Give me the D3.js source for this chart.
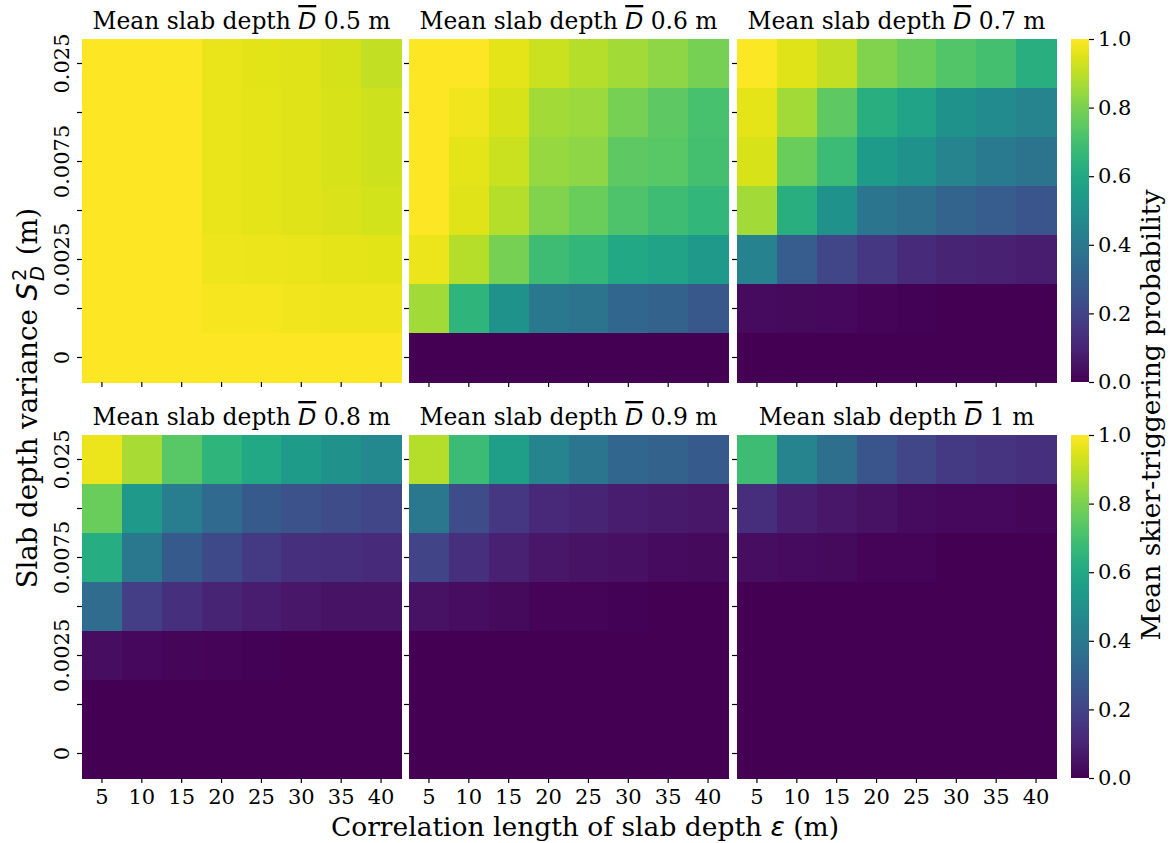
<!DOCTYPE html>
<html>
<head>
<meta charset="utf-8">
<script src="https://cdn.jsdelivr.net/npm/d3@7"></script>
<style>
  body { margin: 0; background: #fff; }
  svg text { font-family: "DejaVu Serif", serif; fill: #000; }
  .math { font-family: "DejaVu Sans", sans-serif; font-style: italic; }
</style>
</head>
<body>
<svg id="chart" width="1171" height="843"></svg>
<script>
// correlation length of slab depth (columns)
const lengths = [5, 10, 15, 20, 25, 30, 35, 40];
// slab depth variance (rows, top to bottom); only every other label is shown
const variances = ["0.025", "0.01", "0.0075", "0.005", "0.0025", "0.001", "0"];
// mean slab depth of each panel
const meanDepths = ["0.5", "0.6", "0.7", "0.8", "0.9", "1"];
const probTicks = [0, 0.2, 0.4, 0.6, 0.8, 1.0];

// mean skier-triggering probability, one row per variance
const prob05 = [
  [1.00, 1.00, 0.995, 0.965, 0.955, 0.95, 0.935, 0.91],
  [1.00, 1.00, 1.00, 0.965, 0.96, 0.95, 0.94, 0.925],
  [1.00, 1.00, 1.00, 0.965, 0.96, 0.95, 0.94, 0.925],
  [1.00, 1.00, 1.00, 0.965, 0.96, 0.95, 0.945, 0.93],
  [1.00, 1.00, 1.00, 0.975, 0.97, 0.965, 0.96, 0.955],
  [1.00, 1.00, 1.00, 0.985, 0.985, 0.98, 0.975, 0.975],
  [1.00, 1.00, 1.00, 1.00, 1.00, 1.00, 1.00, 1.00]
];
const prob06 = [
  [1.00, 1.00, 0.96, 0.92, 0.89, 0.86, 0.83, 0.79],
  [1.00, 0.98, 0.94, 0.86, 0.85, 0.79, 0.75, 0.71],
  [1.00, 0.96, 0.92, 0.84, 0.83, 0.75, 0.74, 0.70],
  [1.00, 0.95, 0.89, 0.81, 0.77, 0.72, 0.69, 0.66],
  [0.97, 0.89, 0.79, 0.69, 0.66, 0.60, 0.58, 0.54],
  [0.86, 0.65, 0.51, 0.40, 0.38, 0.33, 0.31, 0.27],
  [0.00, 0.00, 0.00, 0.00, 0.00, 0.00, 0.00, 0.00]
];
const prob07 = [
  [0.995, 0.95, 0.91, 0.81, 0.77, 0.73, 0.70, 0.63],
  [0.96, 0.86, 0.75, 0.63, 0.58, 0.51, 0.48, 0.45],
  [0.94, 0.77, 0.68, 0.55, 0.51, 0.45, 0.41, 0.38],
  [0.86, 0.63, 0.51, 0.39, 0.36, 0.32, 0.29, 0.26],
  [0.44, 0.29, 0.21, 0.16, 0.12, 0.10, 0.09, 0.08],
  [0.03, 0.025, 0.02, 0.01, 0.005, 0.003, 0.002, 0.002],
  [0.00, 0.00, 0.00, 0.00, 0.00, 0.00, 0.00, 0.00]
];
const prob08 = [
  [0.97, 0.87, 0.74, 0.65, 0.60, 0.55, 0.50, 0.47],
  [0.77, 0.54, 0.42, 0.34, 0.28, 0.25, 0.23, 0.21],
  [0.62, 0.40, 0.28, 0.22, 0.17, 0.14, 0.13, 0.12],
  [0.35, 0.18, 0.14, 0.10, 0.08, 0.06, 0.05, 0.05],
  [0.035, 0.02, 0.015, 0.01, 0.005, 0.003, 0.002, 0.002],
  [0.00, 0.00, 0.00, 0.00, 0.00, 0.00, 0.00, 0.00],
  [0.00, 0.00, 0.00, 0.00, 0.00, 0.00, 0.00, 0.00]
];
const prob09 = [
  [0.89, 0.68, 0.56, 0.45, 0.39, 0.33, 0.31, 0.28],
  [0.40, 0.23, 0.16, 0.11, 0.10, 0.08, 0.07, 0.06],
  [0.20, 0.14, 0.09, 0.06, 0.05, 0.04, 0.03, 0.025],
  [0.045, 0.035, 0.025, 0.01, 0.008, 0.004, 0.003, 0.002],
  [0.00, 0.00, 0.00, 0.00, 0.00, 0.00, 0.00, 0.00],
  [0.00, 0.00, 0.00, 0.00, 0.00, 0.00, 0.00, 0.00],
  [0.00, 0.00, 0.00, 0.00, 0.00, 0.00, 0.00, 0.00]
];
const prob10 = [
  [0.69, 0.45, 0.36, 0.26, 0.21, 0.17, 0.15, 0.14],
  [0.13, 0.085, 0.06, 0.045, 0.03, 0.02, 0.02, 0.015],
  [0.035, 0.03, 0.025, 0.01, 0.008, 0.003, 0.002, 0.002],
  [0.00, 0.00, 0.00, 0.00, 0.00, 0.00, 0.00, 0.00],
  [0.00, 0.00, 0.00, 0.00, 0.00, 0.00, 0.00, 0.00],
  [0.00, 0.00, 0.00, 0.00, 0.00, 0.00, 0.00, 0.00],
  [0.00, 0.00, 0.00, 0.00, 0.00, 0.00, 0.00, 0.00]
];
const panels = [prob05, prob06, prob07, prob08, prob09, prob10];

// layout
const colX = [82, 409, 737];
const rowY = [39, 435];
const panelW = 319, panelH = 343;
const cbX = 1071, cbW = 18;
const tickFont = 21;

const svg = d3.select('#chart');

const x = d3.scaleBand().domain(lengths).range([0, panelW]);
const y = d3.scaleBand().domain(variances).range([0, panelH]);
const color = d3.scaleSequential(d3.interpolateViridis).domain([0, 1]);

panels.forEach((grid, p) => {
  const col = p % 3, row = Math.floor(p / 3);
  const g = svg.append('g')
    .attr('transform', `translate(${colX[col]},${rowY[row]})`);

  const cells = [];
  grid.forEach((vals, i) => vals.forEach((v, j) => {
    cells.push({ len: lengths[j], vr: variances[i], v: v });
  }));

  g.selectAll('rect')
    .data(cells)
    .enter().append('rect')
    .attr('x', d => x(d.len))
    .attr('y', d => y(d.vr))
    .attr('width', x.bandwidth() + 0.5)
    .attr('height', y.bandwidth() + 0.5)
    .attr('shape-rendering', 'crispEdges')
    .style('fill', d => color(d.v));

  // y axis
  const ya = g.append('g')
    .call(d3.axisLeft(y).tickSize(5)
      .tickFormat((d, i) => (col === 0 && i % 2 === 0) ? d : ''));
  ya.select('.domain').remove();
  ya.selectAll('line').attr('stroke', '#000').attr('stroke-width', 1.2);
  ya.selectAll('text')
    .attr('transform', 'rotate(-90)')
    .attr('x', 0)
    .attr('y', -13)
    .attr('dy', 0)
    .attr('text-anchor', 'middle')
    .style('font-size', tickFont + 'px')
    .style('font-family', '"DejaVu Serif", serif');

  // x axis
  const xa = g.append('g')
    .attr('transform', `translate(0,${panelH})`)
    .call(d3.axisBottom(x).tickSize(5).tickPadding(6)
      .tickFormat(d => row === 1 ? d : ''));
  xa.select('.domain').remove();
  xa.selectAll('line').attr('stroke', '#000').attr('stroke-width', 1.2);
  xa.selectAll('text')
    .style('font-size', tickFont + 'px')
    .style('font-family', '"DejaVu Serif", serif');

  // title
  const t = g.append('text')
    .attr('x', panelW / 2)
    .attr('y', -10)
    .attr('text-anchor', 'middle')
    .style('font-size', '23.4px');
  t.append('tspan').text('Mean slab depth ');
  t.append('tspan').attr('class', 'math')
    .style('text-decoration', 'overline')
    .text('D');
  t.append('tspan').text(' ' + meanDepths[p] + ' m');
});

// colorbars
const defs = svg.append('defs');
const grad = defs.append('linearGradient')
  .attr('id', 'viridis')
  .attr('x1', 0).attr('y1', 1).attr('x2', 0).attr('y2', 0);
d3.range(0, 1.0001, 0.05).forEach(s => {
  grad.append('stop').attr('offset', s).attr('stop-color', color(s));
});

const cbScale = d3.scaleLinear().domain([0, 1]).range([panelH, 0]);
rowY.forEach(ry => {
  const cg = svg.append('g').attr('transform', `translate(${cbX},${ry})`);
  cg.append('rect')
    .attr('width', cbW)
    .attr('height', panelH)
    .style('fill', 'url(#viridis)');
  const ca = cg.append('g')
    .attr('transform', `translate(${cbW},0)`)
    .call(d3.axisRight(cbScale).tickValues(probTicks).tickSize(5).tickPadding(4)
      .tickFormat(d3.format('.1f')));
  ca.select('.domain').remove();
  ca.selectAll('line').attr('stroke', '#000').attr('stroke-width', 1.2);
  ca.selectAll('text')
    .style('font-size', tickFont + 'px')
    .style('font-family', '"DejaVu Serif", serif');
});

// shared labels
svg.append('text')
  .attr('x', 585)
  .attr('y', 836)
  .attr('text-anchor', 'middle')
  .style('font-size', '26.5px')
  .call(s => {
    s.append('tspan').text('Correlation length of slab depth ');
    s.append('tspan').attr('class', 'math').text('ε');
    s.append('tspan').text(' (m)');
  });

const yl = svg.append('text')
  .attr('transform', 'translate(37,398) rotate(-90)')
  .attr('text-anchor', 'middle')
  .style('font-size', '27.5px');
yl.append('tspan').text('Slab depth variance ');
yl.append('tspan').attr('class', 'math').text('S');
yl.append('tspan').attr('class', 'math').style('font-style', 'normal')
  .style('font-size', '19.5px').attr('dy', -11.5).attr('dx', 2).text('2');
yl.append('tspan').attr('class', 'math')
  .style('font-size', '19.5px').attr('dy', 18).attr('dx', -12.4).text('D');
yl.append('tspan').attr('dy', -6.5).attr('dx', 2).text(' (m)');

svg.append('text')
  .attr('transform', 'translate(1160,415) rotate(-90)')
  .attr('text-anchor', 'middle')
  .style('font-size', '26.5px')
  .text('Mean skier-triggering probability');
</script>
</body>
</html>
